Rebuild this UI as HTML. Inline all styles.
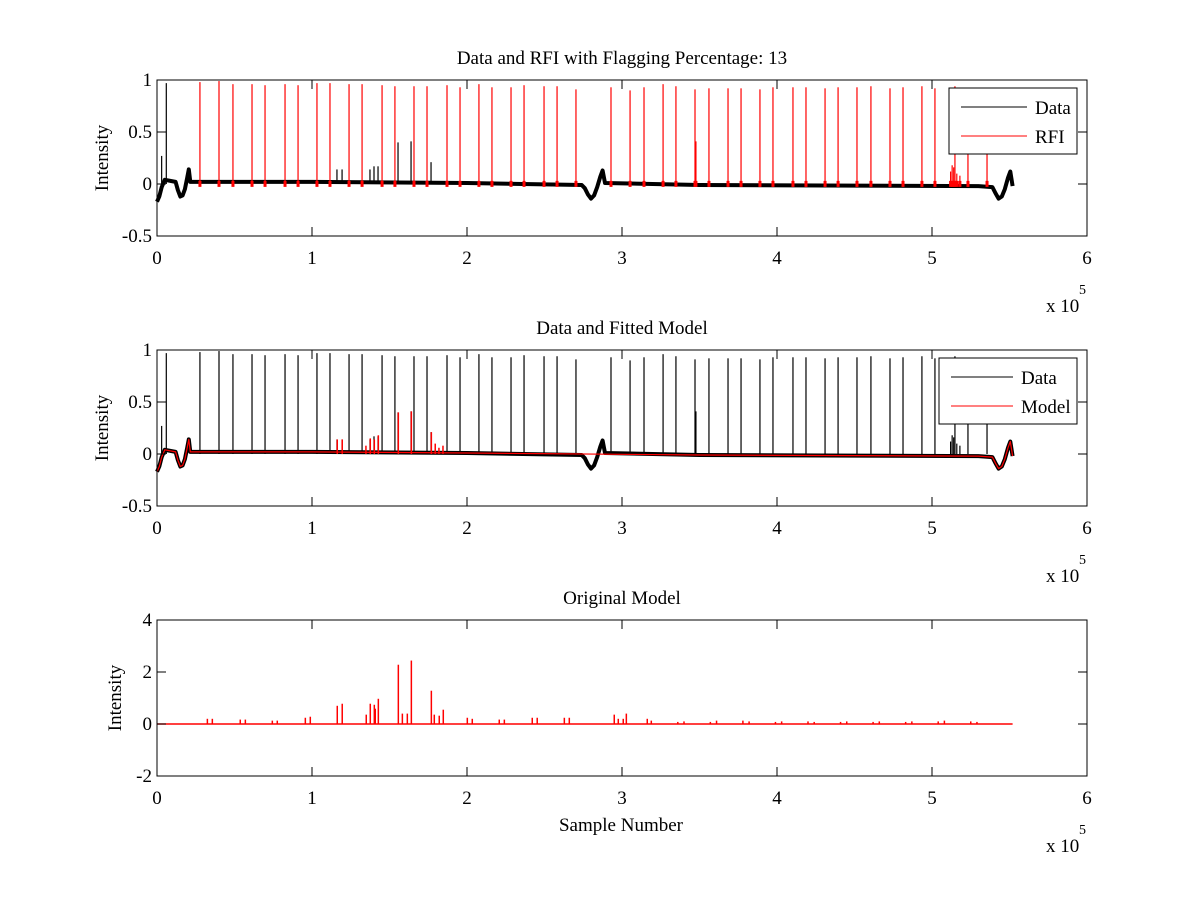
<!DOCTYPE html>
<html><head><meta charset="utf-8"><style>
body{margin:0;background:#fff}
svg{display:block;font-family:"Liberation Serif",serif;font-size:19px}
</style></head><body>
<svg id="fig" width="1200" height="900" viewBox="0 0 1200 900" xmlns="http://www.w3.org/2000/svg"></svg>
<script>
// ---- data (x in units of 1e5 samples) ----
const baseX=[0,0.015,0.03,0.05,0.12,0.135,0.15,0.165,0.18,0.195,0.205,0.215,1.0,2.0,2.74,2.76,2.78,2.80,2.82,2.84,2.86,2.875,2.89,3.5,4.5,5.3,5.39,5.41,5.43,5.45,5.47,5.49,5.505,5.52];
const baseY=[-0.17,-0.12,-0.03,0.04,0.02,-0.06,-0.12,-0.11,-0.05,0.06,0.14,0.02,0.02,0.01,-0.01,-0.04,-0.10,-0.14,-0.11,-0.03,0.07,0.13,0.01,-0.01,-0.015,-0.02,-0.03,-0.09,-0.14,-0.12,-0.05,0.06,0.12,-0.02];
const rfiX=[0.277,0.400,0.490,0.613,0.697,0.826,0.910,1.032,1.116,1.239,1.323,1.452,1.535,1.658,1.742,1.871,1.955,2.077,2.161,2.284,2.368,2.497,2.581,2.703,2.929,3.052,3.142,3.265,3.348,3.471,3.561,3.684,3.768,3.890,3.974,4.103,4.187,4.310,4.394,4.516,4.606,4.729,4.813,4.935,5.019,5.148,5.232,5.355,3.477,5.12,5.13,5.14,5.16,5.18];
const rfiY=[0.98,0.99,0.96,0.96,0.95,0.96,0.95,0.97,0.97,0.96,0.96,0.95,0.94,0.94,0.94,0.95,0.93,0.96,0.93,0.93,0.95,0.94,0.94,0.91,0.93,0.90,0.93,0.96,0.94,0.91,0.92,0.92,0.92,0.91,0.93,0.93,0.93,0.92,0.93,0.93,0.94,0.92,0.93,0.94,0.92,0.94,0.92,0.92,0.41,0.12,0.18,0.16,0.10,0.08];
const blackX=[0.03,0.06,1.161,1.194,1.374,1.400,1.426,1.555,1.639,1.768];
const blackY=[0.27,0.97,0.14,0.14,0.14,0.17,0.17,0.40,0.41,0.21];
const fitX=[1.163,1.195,1.348,1.376,1.402,1.428,1.557,1.641,1.770,1.795,1.819,1.845];
const fitY=[0.14,0.14,0.08,0.15,0.14,0.18,0.40,0.41,0.21,0.10,0.06,0.08];
const fitBaseX=[0,0.015,0.03,0.05,0.12,0.135,0.15,0.165,0.18,0.195,0.205,0.215,1.0,2.0,3.5,4.5,5.3,5.39,5.41,5.43,5.45,5.47,5.49,5.505,5.52];
const fitBaseY=[-0.17,-0.12,-0.03,0.04,0.02,-0.06,-0.12,-0.11,-0.05,0.06,0.14,0.02,0.02,0.01,-0.01,-0.015,-0.02,-0.03,-0.09,-0.14,-0.12,-0.05,0.06,0.12,-0.02];
const modelX=[0.325,0.357,0.537,0.570,0.744,0.776,0.957,0.989,1.163,1.195,1.350,1.376,1.402,1.408,1.428,1.557,1.583,1.615,1.641,1.770,1.789,1.821,1.847,2.002,2.034,2.208,2.241,2.421,2.453,2.628,2.660,2.950,2.976,3.008,3.028,3.163,3.189,3.36,3.40,3.57,3.61,3.78,3.82,3.99,4.03,4.20,4.24,4.41,4.45,4.62,4.66,4.83,4.87,5.04,5.08,5.25,5.29];
const modelY=[0.2,0.2,0.17,0.17,0.13,0.13,0.24,0.28,0.7,0.78,0.36,0.78,0.74,0.59,0.97,2.28,0.4,0.4,2.44,1.28,0.36,0.32,0.55,0.24,0.2,0.17,0.17,0.24,0.24,0.24,0.24,0.36,0.2,0.2,0.4,0.2,0.13,0.08,0.1,0.08,0.13,0.13,0.1,0.08,0.1,0.1,0.08,0.08,0.1,0.08,0.1,0.08,0.1,0.1,0.13,0.1,0.08];
const xTicks=[0,1,2,3,4,5,6];
const yTicks1=[-0.5,0,0.5,1];
const yTickLabels1=["-0.5","0","0.5","1"];
const yTicks3=[-2,0,2,4];

const NS="http://www.w3.org/2000/svg";
const svg=document.getElementById('fig');
function mk(tag,attrs,parent){const e=document.createElementNS(NS,tag);for(const k in attrs)e.setAttribute(k,attrs[k]);(parent||svg).appendChild(e);return e;}
const L=157,R=1087;
const sx=v=>L+(v/6)*(R-L);

function axes(top,bot,ymin,ymax,yt,ytl,name){
  const g=mk('g',{});
  
  
  const sy=v=>bot-(v-ymin)/(ymax-ymin)*(bot-top);
  return {g,sy,top,bot,yt,ytl};
}
function frame(a,lblX){
  const {g,top,bot,sy,yt,ytl}=a;
  const r=mk('rect',{x:L,y:top,width:R-L,height:bot-top,fill:'none',stroke:'#000','stroke-width':1},g);
  
  xTicks.forEach(t=>{
    const x=sx(t);
    mk('line',{x1:x,x2:x,y1:bot,y2:bot-9,stroke:'#000'},g);
    mk('line',{x1:x,x2:x,y1:top,y2:top+9,stroke:'#000'},g);
    const tx=mk('text',{x:x,y:bot+28,'text-anchor':'middle'},g);tx.textContent=t;
    
  });
  yt.forEach((t,i)=>{
    const y=sy(t);
    mk('line',{x1:L,x2:L+9,y1:y,y2:y,stroke:'#000'},g);
    mk('line',{x1:R,x2:R-9,y1:y,y2:y,stroke:'#000'},g);
    const tx=mk('text',{x:L-5,y:y+6,'text-anchor':'end'},g);tx.textContent=ytl[i];
    
  });
  const m=mk('text',{x:1046,y:bot+76},g);m.textContent='x 10';
  
  const s=mk('text',{x:1079,y:bot+58,'font-size':14},g);s.textContent='5';
  const yl=mk('text',{x:0,y:0,'text-anchor':'middle',transform:`translate(${lblX},${(top+bot)/2}) rotate(-90)`},g);yl.textContent='Intensity';
  
}
function base(a,xs,ys,col,w){
  const p=xs.map((x,i)=>sx(x).toFixed(1)+','+a.sy(ys[i]).toFixed(1)).join(' ');
  const e=mk('polyline',{points:p,fill:'none',stroke:col,'stroke-width':w,'stroke-linejoin':'round'},a.g);
  
  return e;
}
function spikes(a,xs,ys,col,b,w){
  xs.forEach((x,i)=>{
    const e=mk('line',{x1:sx(x),x2:sx(x),y1:a.sy(b),y2:a.sy(ys[i]),stroke:col,'stroke-width':w||1.2},a.g);
    
  });
}
function title(txt,y){const t=mk('text',{x:622,y:y,'text-anchor':'middle'});t.textContent=txt;
  }
function legend(x,y,w,lx2,tx,items){
  const g=mk('g',{});
  mk('rect',{x:x,y:y,width:w,height:66,fill:'#fff',stroke:'#000'},g);
  items.forEach((it,i)=>{const yy=y+19+i*29;
    mk('line',{x1:x+12,x2:lx2,y1:yy,y2:yy,stroke:it[1],'stroke-width':1},g);
    const t=mk('text',{x:tx,y:yy+7},g);t.textContent=it[0];
    });
}

// Plot 1
title('Data and RFI with Flagging Percentage: 13',64);
const a1=axes(80,236,-0.5,1,yTicks1,yTickLabels1,'rfi-axes');
base(a1,baseX,baseY,'#000',4);
spikes(a1,blackX,blackY,'#000',0);
rfiX.forEach((x,i)=>{const r=mk('rect',{x:sx(x)-1.5,y:a1.sy(0.03),width:3,height:6,fill:'#f00'},a1.g);
  });
spikes(a1,rfiX,rfiY,'#f00',0);
frame(a1,108);
legend(949,88,128,1027,1035,[['Data','#000'],['RFI','#f00']]);

// Plot 2
title('Data and Fitted Model',334);
const a2=axes(350,506,-0.5,1,yTicks1,yTickLabels1,'model-axes');
base(a2,baseX,baseY,'#000',4);
spikes(a2,blackX,blackY,'#000',0);
spikes(a2,rfiX,rfiY,'#000',0);
base(a2,fitBaseX,fitBaseY,'#f00',1.2);
spikes(a2,fitX,fitY,'#f00',0,1.5);
frame(a2,108);
legend(939,358,138,1013,1021,[['Data','#000'],['Model','#f00']]);

// Plot 3
title('Original Model',604);
const a3=axes(620,776,-2,4,yTicks3,yTicks3.map(String),'original-model-axes');
base(a3,[0,5.52],[0,0],'#f00',1.5);
spikes(a3,modelX,modelY,'#f00',0,1.5);
frame(a3,121);
const xl=mk('text',{x:621,y:831,'text-anchor':'middle'});xl.textContent='Sample Number';

</script>
</body></html>
